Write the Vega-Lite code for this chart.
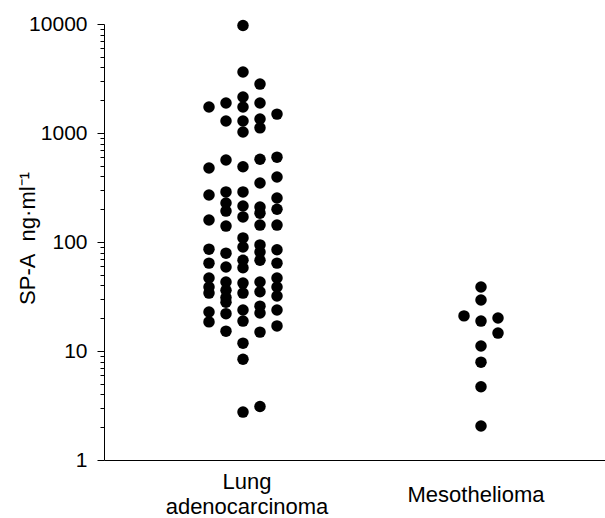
{
  "$schema": "https://vega.github.io/schema/vega-lite/v6.json",
  "width": 501,
  "height": 436,
  "autosize": {"type": "none"},
  "padding": {"left": 104, "top": 24, "right": 0, "bottom": 58},
  "background": "white",
  "config": {"view": {"stroke": null}, "font": "Liberation Sans"},
  "data": {
    "values": [
      {"group": "Lung adenocarcinoma", "col": -2, "value": 1733},
      {"group": "Lung adenocarcinoma", "col": -2, "value": 477},
      {"group": "Lung adenocarcinoma", "col": -2, "value": 270},
      {"group": "Lung adenocarcinoma", "col": -2, "value": 159},
      {"group": "Lung adenocarcinoma", "col": -2, "value": 86},
      {"group": "Lung adenocarcinoma", "col": -2, "value": 64},
      {"group": "Lung adenocarcinoma", "col": -2, "value": 46.7},
      {"group": "Lung adenocarcinoma", "col": -2, "value": 38.7},
      {"group": "Lung adenocarcinoma", "col": -2, "value": 34},
      {"group": "Lung adenocarcinoma", "col": -2, "value": 22.8},
      {"group": "Lung adenocarcinoma", "col": -2, "value": 18.5},
      {"group": "Lung adenocarcinoma", "col": -1, "value": 1885},
      {"group": "Lung adenocarcinoma", "col": -1, "value": 1290},
      {"group": "Lung adenocarcinoma", "col": -1, "value": 565},
      {"group": "Lung adenocarcinoma", "col": -1, "value": 288},
      {"group": "Lung adenocarcinoma", "col": -1, "value": 228},
      {"group": "Lung adenocarcinoma", "col": -1, "value": 192},
      {"group": "Lung adenocarcinoma", "col": -1, "value": 140},
      {"group": "Lung adenocarcinoma", "col": -1, "value": 79},
      {"group": "Lung adenocarcinoma", "col": -1, "value": 59},
      {"group": "Lung adenocarcinoma", "col": -1, "value": 43},
      {"group": "Lung adenocarcinoma", "col": -1, "value": 36},
      {"group": "Lung adenocarcinoma", "col": -1, "value": 31},
      {"group": "Lung adenocarcinoma", "col": -1, "value": 28},
      {"group": "Lung adenocarcinoma", "col": -1, "value": 22},
      {"group": "Lung adenocarcinoma", "col": -1, "value": 15.2},
      {"group": "Lung adenocarcinoma", "col": 0, "value": 9700},
      {"group": "Lung adenocarcinoma", "col": 0, "value": 3630},
      {"group": "Lung adenocarcinoma", "col": 0, "value": 2140},
      {"group": "Lung adenocarcinoma", "col": 0, "value": 1733},
      {"group": "Lung adenocarcinoma", "col": 0, "value": 1290},
      {"group": "Lung adenocarcinoma", "col": 0, "value": 1020},
      {"group": "Lung adenocarcinoma", "col": 0, "value": 490},
      {"group": "Lung adenocarcinoma", "col": 0, "value": 288},
      {"group": "Lung adenocarcinoma", "col": 0, "value": 214},
      {"group": "Lung adenocarcinoma", "col": 0, "value": 170},
      {"group": "Lung adenocarcinoma", "col": 0, "value": 109},
      {"group": "Lung adenocarcinoma", "col": 0, "value": 90},
      {"group": "Lung adenocarcinoma", "col": 0, "value": 68},
      {"group": "Lung adenocarcinoma", "col": 0, "value": 58},
      {"group": "Lung adenocarcinoma", "col": 0, "value": 42},
      {"group": "Lung adenocarcinoma", "col": 0, "value": 34},
      {"group": "Lung adenocarcinoma", "col": 0, "value": 23.8},
      {"group": "Lung adenocarcinoma", "col": 0, "value": 18.8},
      {"group": "Lung adenocarcinoma", "col": 0, "value": 11.8},
      {"group": "Lung adenocarcinoma", "col": 0, "value": 8.4},
      {"group": "Lung adenocarcinoma", "col": 0, "value": 2.75},
      {"group": "Lung adenocarcinoma", "col": 1, "value": 2810},
      {"group": "Lung adenocarcinoma", "col": 1, "value": 1885},
      {"group": "Lung adenocarcinoma", "col": 1, "value": 1345},
      {"group": "Lung adenocarcinoma", "col": 1, "value": 1115},
      {"group": "Lung adenocarcinoma", "col": 1, "value": 575},
      {"group": "Lung adenocarcinoma", "col": 1, "value": 348},
      {"group": "Lung adenocarcinoma", "col": 1, "value": 209},
      {"group": "Lung adenocarcinoma", "col": 1, "value": 184},
      {"group": "Lung adenocarcinoma", "col": 1, "value": 143},
      {"group": "Lung adenocarcinoma", "col": 1, "value": 94},
      {"group": "Lung adenocarcinoma", "col": 1, "value": 81},
      {"group": "Lung adenocarcinoma", "col": 1, "value": 68},
      {"group": "Lung adenocarcinoma", "col": 1, "value": 43},
      {"group": "Lung adenocarcinoma", "col": 1, "value": 35},
      {"group": "Lung adenocarcinoma", "col": 1, "value": 25.8},
      {"group": "Lung adenocarcinoma", "col": 1, "value": 22.3},
      {"group": "Lung adenocarcinoma", "col": 1, "value": 14.9},
      {"group": "Lung adenocarcinoma", "col": 1, "value": 3.1},
      {"group": "Lung adenocarcinoma", "col": 2, "value": 1490},
      {"group": "Lung adenocarcinoma", "col": 2, "value": 600},
      {"group": "Lung adenocarcinoma", "col": 2, "value": 395},
      {"group": "Lung adenocarcinoma", "col": 2, "value": 253},
      {"group": "Lung adenocarcinoma", "col": 2, "value": 200},
      {"group": "Lung adenocarcinoma", "col": 2, "value": 143},
      {"group": "Lung adenocarcinoma", "col": 2, "value": 85},
      {"group": "Lung adenocarcinoma", "col": 2, "value": 64},
      {"group": "Lung adenocarcinoma", "col": 2, "value": 46.7},
      {"group": "Lung adenocarcinoma", "col": 2, "value": 38.7},
      {"group": "Lung adenocarcinoma", "col": 2, "value": 32},
      {"group": "Lung adenocarcinoma", "col": 2, "value": 23.8},
      {"group": "Lung adenocarcinoma", "col": 2, "value": 17},
      {"group": "Mesothelioma", "col": 0, "value": 38.7},
      {"group": "Mesothelioma", "col": 0, "value": 29.4},
      {"group": "Mesothelioma", "col": 0, "value": 18.8},
      {"group": "Mesothelioma", "col": 0, "value": 11.1},
      {"group": "Mesothelioma", "col": 0, "value": 7.9},
      {"group": "Mesothelioma", "col": 0, "value": 4.7},
      {"group": "Mesothelioma", "col": 0, "value": 2.05},
      {"group": "Mesothelioma", "col": -1, "value": 21},
      {"group": "Mesothelioma", "col": 1, "value": 20.1},
      {"group": "Mesothelioma", "col": 1, "value": 14.6}
    ]
  },
  "mark": {"type": "circle", "size": 132, "color": "black", "opacity": 1},
  "encoding": {
    "x": {
      "field": "group",
      "type": "nominal",
      "scale": {"domain": ["Lung adenocarcinoma", "Mesothelioma"], "paddingInner": 0, "paddingOuter": 0.0525, "align": 0.8},
      "axis": {
        "title": null,
        "ticks": false,
        "tickSize": 0,
        "domainColor": "black",
        "domainWidth": 1,
        "labelAngle": 0,
        "labelFont": "Liberation Sans",
        "labelFontSize": 22,
        "labelColor": "black",
        "labelPadding": {"condition": {"test": "datum.value == 'Lung adenocarcinoma'", "value": 21}, "value": 34},
        "labelBaseline": "middle",
        "labelLineHeight": 25,
        "labelExpr": "datum.value == 'Lung adenocarcinoma' ? ['Lung', 'adenocarcinoma'] : datum.value",
        "labelOffset": {"condition": {"test": "datum.value == 'Mesothelioma'", "value": -5}, "value": 4}
      }
    },
    "xOffset": {
      "field": "col",
      "type": "ordinal",
      "scale": {"domain": [-2, -1, 0, 1, 2], "paddingInner": 0, "paddingOuter": 0, "range": [85, 153]}
    },
    "y": {
      "field": "value",
      "type": "quantitative",
      "scale": {"type": "log", "domain": [1, 10000], "nice": false},
      "axis": {
        "title": "SP-A\u00a0\u00a0ng·ml⁻¹",
        "titleFont": "Liberation Sans",
        "titleFontSize": 22,
        "titleFontWeight": "normal",
        "titleColor": "black",
        "titleX": -65,
        "titleY": 214,
        "values": [1, 2, 3, 4, 5, 6, 7, 8, 9, 10, 20, 30, 40, 50, 60, 70, 80, 90, 100, 200, 300, 400, 500, 600, 700, 800, 900, 1000, 2000, 3000, 4000, 5000, 6000, 7000, 8000, 9000, 10000],
        "format": "d",
        "labelExpr": "indexof([1, 10, 100, 1000, 10000], datum.value) >= 0 ? datum.label : ''",
        "tickSize": {"condition": {"test": "indexof([1, 10, 100, 1000, 10000], datum.value) >= 0", "value": 7}, "value": 4},
        "tickColor": "black",
        "domainColor": "black",
        "grid": false,
        "labelOverlap": false,
        "labelFont": "Liberation Sans",
        "labelFontSize": 21,
        "labelColor": "black",
        "labelPadding": 10
      }
    }
  }
}
